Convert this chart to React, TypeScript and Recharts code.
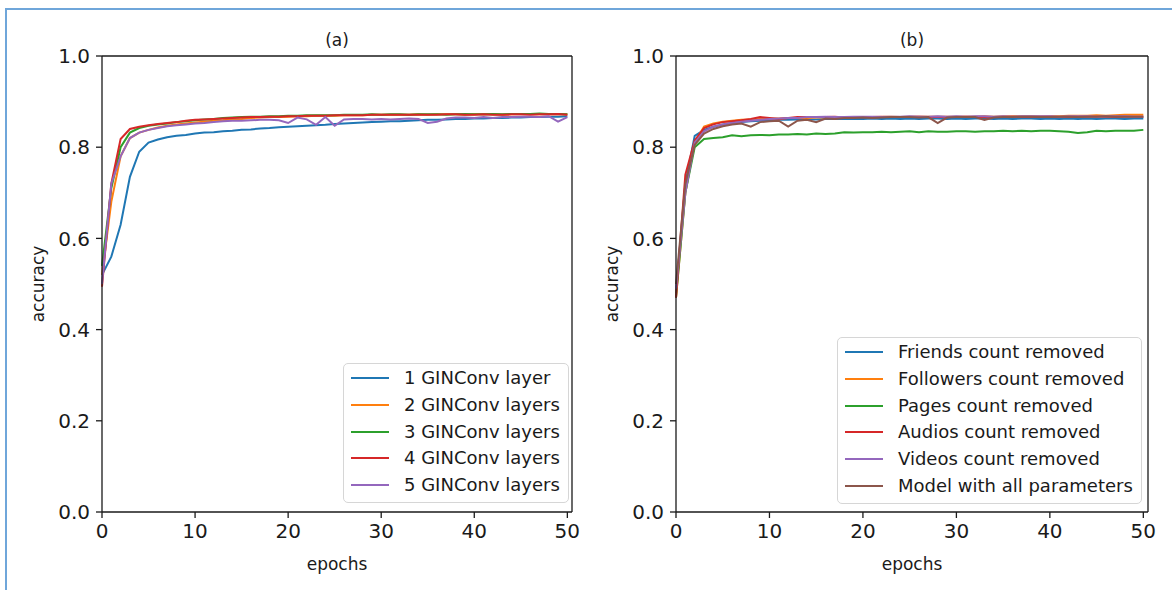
import { Legend, Line, LineChart, ReferenceLine, XAxis, YAxis } from "recharts";

const FONT = "'DejaVu Sans', sans-serif";
const INK = "#1a1a1a";

const epochs = Array.from({ length: 51 }, (_, i) => i);
const xTicks = [0, 10, 20, 30, 40, 50];
const yTicks = [0, 0.2, 0.4, 0.6, 0.8, 1.0];
const X_MAX = 50.5;

// (a) number of GINConv layers
const gin1 = [0.52, 0.56, 0.63, 0.735, 0.79, 0.81, 0.817, 0.822, 0.825, 0.827, 0.83, 0.832, 0.833, 0.835, 0.836, 0.838, 0.839, 0.841, 0.842, 0.844, 0.845, 0.846, 0.847, 0.848, 0.849, 0.851, 0.852, 0.853, 0.854, 0.855, 0.856, 0.857, 0.857, 0.858, 0.859, 0.86, 0.86, 0.861, 0.862, 0.862, 0.863, 0.863, 0.864, 0.864, 0.865, 0.865, 0.866, 0.866, 0.867, 0.867, 0.868];
const gin2 = [0.52, 0.68, 0.78, 0.82, 0.832, 0.838, 0.843, 0.847, 0.85, 0.852, 0.854, 0.856, 0.858, 0.859, 0.861, 0.862, 0.864, 0.865, 0.866, 0.866, 0.867, 0.868, 0.868, 0.869, 0.869, 0.869, 0.87, 0.87, 0.87, 0.871, 0.871, 0.871, 0.871, 0.871, 0.872, 0.871, 0.872, 0.872, 0.872, 0.871, 0.872, 0.872, 0.872, 0.871, 0.872, 0.872, 0.872, 0.873, 0.872, 0.872, 0.872];
const gin3 = [0.54, 0.71, 0.8, 0.832, 0.842, 0.847, 0.85, 0.852, 0.855, 0.857, 0.859, 0.861, 0.862, 0.864, 0.865, 0.866, 0.867, 0.867, 0.868, 0.868, 0.869, 0.869, 0.87, 0.87, 0.87, 0.87, 0.871, 0.871, 0.871, 0.872, 0.871, 0.872, 0.872, 0.871, 0.872, 0.872, 0.872, 0.871, 0.872, 0.873, 0.872, 0.872, 0.873, 0.872, 0.873, 0.873, 0.873, 0.874, 0.873, 0.873, 0.872];
const gin4 = [0.494, 0.72, 0.818, 0.84, 0.845, 0.848, 0.851, 0.853, 0.855, 0.858, 0.86, 0.861, 0.862, 0.863, 0.864, 0.865, 0.866, 0.866, 0.867, 0.867, 0.868, 0.868, 0.869, 0.869, 0.869, 0.87, 0.87, 0.87, 0.87, 0.871, 0.871, 0.871, 0.871, 0.871, 0.871, 0.871, 0.871, 0.872, 0.872, 0.871, 0.871, 0.872, 0.871, 0.871, 0.872, 0.872, 0.871, 0.872, 0.872, 0.873, 0.871];
const gin5 = [0.5, 0.72, 0.78, 0.82, 0.832, 0.838, 0.842, 0.846, 0.848, 0.85, 0.852, 0.853, 0.855, 0.857, 0.858, 0.858, 0.859, 0.86, 0.86, 0.859, 0.853, 0.865, 0.861, 0.849, 0.866, 0.847, 0.861, 0.862, 0.862, 0.861, 0.862, 0.861, 0.862, 0.863, 0.862, 0.853, 0.856, 0.863, 0.865, 0.865, 0.864, 0.866, 0.864, 0.866, 0.866, 0.867, 0.867, 0.866, 0.868, 0.856, 0.866];

// (b) one feature removed at a time
const friends = [0.48, 0.72, 0.825, 0.838, 0.845, 0.85, 0.853, 0.855, 0.857, 0.858, 0.859, 0.86, 0.86, 0.861, 0.861, 0.861, 0.862, 0.862, 0.862, 0.862, 0.862, 0.863, 0.862, 0.863, 0.862, 0.863, 0.862, 0.863, 0.863, 0.862, 0.863, 0.862, 0.863, 0.863, 0.862, 0.863, 0.862, 0.863, 0.863, 0.862, 0.863, 0.862, 0.863, 0.862, 0.863, 0.862, 0.863, 0.863, 0.862, 0.863, 0.863];
const followers = [0.47, 0.7, 0.81, 0.845, 0.852, 0.856, 0.858, 0.86, 0.861, 0.862, 0.863, 0.863, 0.864, 0.864, 0.864, 0.865, 0.865, 0.865, 0.866, 0.866, 0.866, 0.866, 0.866, 0.867, 0.866, 0.867, 0.867, 0.867, 0.867, 0.867, 0.867, 0.867, 0.867, 0.868, 0.867, 0.868, 0.868, 0.868, 0.868, 0.868, 0.868, 0.868, 0.869, 0.869, 0.869, 0.87, 0.869, 0.87, 0.871, 0.871, 0.871];
const pages = [0.47, 0.7, 0.8, 0.818, 0.82, 0.822, 0.826, 0.824, 0.826, 0.827, 0.826, 0.828, 0.828, 0.829, 0.828, 0.83, 0.829, 0.83, 0.833, 0.832, 0.833, 0.833, 0.834, 0.833, 0.834, 0.835, 0.833, 0.835, 0.834, 0.834, 0.835, 0.835, 0.834, 0.835, 0.835, 0.836, 0.835, 0.836, 0.835, 0.836, 0.836, 0.835, 0.834, 0.831, 0.833, 0.836, 0.835, 0.836, 0.836, 0.836, 0.838];
const audios = [0.47, 0.74, 0.815, 0.842, 0.85, 0.855, 0.857, 0.859, 0.862, 0.866, 0.864, 0.862, 0.864, 0.866, 0.866, 0.866, 0.866, 0.867, 0.865, 0.866, 0.866, 0.866, 0.867, 0.866, 0.866, 0.866, 0.867, 0.866, 0.866, 0.866, 0.866, 0.867, 0.866, 0.866, 0.866, 0.866, 0.867, 0.866, 0.866, 0.866, 0.867, 0.866, 0.866, 0.866, 0.867, 0.867, 0.867, 0.866, 0.867, 0.867, 0.867];
const videos = [0.49, 0.7, 0.81, 0.835, 0.845, 0.85, 0.853, 0.856, 0.858, 0.86, 0.862, 0.863, 0.864, 0.864, 0.866, 0.866, 0.867, 0.866, 0.866, 0.867, 0.867, 0.867, 0.866, 0.867, 0.867, 0.868, 0.867, 0.867, 0.868, 0.867, 0.868, 0.867, 0.868, 0.868, 0.867, 0.868, 0.867, 0.868, 0.868, 0.868, 0.868, 0.867, 0.868, 0.868, 0.868, 0.867, 0.868, 0.868, 0.868, 0.867, 0.867];
const allParams = [0.5, 0.72, 0.805, 0.83, 0.84, 0.846, 0.85, 0.852, 0.845, 0.855, 0.857, 0.858, 0.845, 0.858, 0.86, 0.855, 0.863, 0.862, 0.864, 0.864, 0.865, 0.864, 0.865, 0.866, 0.866, 0.866, 0.865, 0.866, 0.853, 0.865, 0.866, 0.866, 0.866, 0.86, 0.865, 0.866, 0.866, 0.867, 0.867, 0.866, 0.866, 0.867, 0.867, 0.866, 0.867, 0.867, 0.868, 0.867, 0.867, 0.867, 0.867];

type Series = { key: string; name: string; color: string; values: number[] };

const seriesA: Series[] = [
  { key: "gin1", name: "1 GINConv layer", color: "#1f77b4", values: gin1 },
  { key: "gin2", name: "2 GINConv layers", color: "#ff7f0e", values: gin2 },
  { key: "gin3", name: "3 GINConv layers", color: "#2ca02c", values: gin3 },
  { key: "gin4", name: "4 GINConv layers", color: "#d62728", values: gin4 },
  { key: "gin5", name: "5 GINConv layers", color: "#9467bd", values: gin5 },
];

const seriesB: Series[] = [
  { key: "friends", name: "Friends count removed", color: "#1f77b4", values: friends },
  { key: "followers", name: "Followers count removed", color: "#ff7f0e", values: followers },
  { key: "pages", name: "Pages count removed", color: "#2ca02c", values: pages },
  { key: "audios", name: "Audios count removed", color: "#d62728", values: audios },
  { key: "videos", name: "Videos count removed", color: "#9467bd", values: videos },
  { key: "all", name: "Model with all parameters", color: "#8c564b", values: allParams },
];

function toRows(series: Series[]) {
  return epochs.map((e, i) => {
    const row: Record<string, number> = { epoch: e };
    series.forEach((s) => (row[s.key] = s.values[i]));
    return row;
  });
}

function LegendBox({ items }: { items: Series[] }) {
  return (
    <div
      style={{
        boxSizing: "border-box",
        border: "1.3px solid #d6d6d6",
        borderRadius: 5,
        background: "rgba(255,255,255,0.85)",
        padding: "1px 8px 4px 0",
        fontFamily: FONT,
        fontSize: 18,
        color: INK,
      }}
    >
      {items.map((s) => (
        <div key={s.key} style={{ height: 26.7, display: "flex", alignItems: "center" }}>
          <span style={{ display: "inline-block", marginLeft: 7, width: 38, height: 2, background: s.color }} />
          <span style={{ marginLeft: 15, whiteSpace: "nowrap", lineHeight: 1 }}>{s.name}</span>
        </div>
      ))}
    </div>
  );
}

type PanelProps = {
  title: string;
  series: Series[];
  left: number;
  width: number;
  yAxisWidth: number;
  marginRight: number;
  labelDx: number;
  legendLeft: number;
  legendTop: number;
};

const tickStyle = { fontFamily: FONT, fontSize: 20, fill: INK };
const labelStyle = { fontFamily: FONT, fontSize: 17, fill: INK };
const titleStyle = { fontFamily: FONT, fontSize: 17, fill: INK };

function Panel({ title, series, left, width, yAxisWidth, marginRight, labelDx, legendLeft, legendTop }: PanelProps) {
  return (
    <div style={{ position: "absolute", left, top: 0 }}>
      <LineChart width={width} height={590} data={toRows(series)} margin={{ top: 56, right: marginRight, bottom: 20, left: 0 }}>
        <XAxis
          dataKey="epoch"
          type="number"
          domain={[0, X_MAX]}
          ticks={xTicks}
          interval={0}
          height={58}
          stroke={INK}
          strokeWidth={1.3}
          tickSize={6}
          tickMargin={6}
          tick={tickStyle}
          label={{ value: "epochs", position: "insideBottom", offset: 0, style: labelStyle }}
        />
        <YAxis
          type="number"
          domain={[0, 1]}
          ticks={yTicks}
          interval={0}
          width={yAxisWidth}
          stroke={INK}
          strokeWidth={1.3}
          tickSize={6}
          tickMargin={6}
          tick={tickStyle}
          tickFormatter={(v: number) => v.toFixed(1)}
          label={{ value: "accuracy", angle: -90, position: "center", dx: labelDx, style: labelStyle }}
        />
        <ReferenceLine
          y={1}
          stroke={INK}
          strokeWidth={1.3}
          ifOverflow="visible"
          label={{ value: title, position: "top", offset: 10, style: titleStyle }}
        />
        <ReferenceLine x={X_MAX} stroke={INK} strokeWidth={1.3} ifOverflow="visible" />
        {series.map((s) => (
          <Line
            key={s.key}
            dataKey={s.key}
            name={s.name}
            stroke={s.color}
            strokeWidth={2}
            dot={false}
            type="linear"
            isAnimationActive={false}
          />
        ))}
        <Legend
          layout="vertical"
          align="center"
          verticalAlign="middle"
          content={() => <LegendBox items={series} />}
          wrapperStyle={{ left: legendLeft, top: legendTop, width: "auto", height: "auto" }}
        />
      </LineChart>
    </div>
  );
}

export default function App() {
  return (
    <div style={{ position: "absolute", left: 0, top: 0, width: 1172, height: 590, background: "#fff", overflow: "hidden" }}>
      <div style={{ position: "absolute", left: 5, top: 8, width: 1200, height: 620, border: "2px solid #6fa6da", boxSizing: "border-box" }} />
      <Panel
        title="(a)"
        series={seriesA}
        left={0}
        width={590}
        yAxisWidth={102}
        marginRight={18}
        labelDx={-13}
        legendLeft={343}
        legendTop={363}
      />
      <Panel
        title="(b)"
        series={seriesB}
        left={586}
        width={586}
        yAxisWidth={90}
        marginRight={24}
        labelDx={-19}
        legendLeft={251}
        legendTop={337}
      />
    </div>
  );
}
